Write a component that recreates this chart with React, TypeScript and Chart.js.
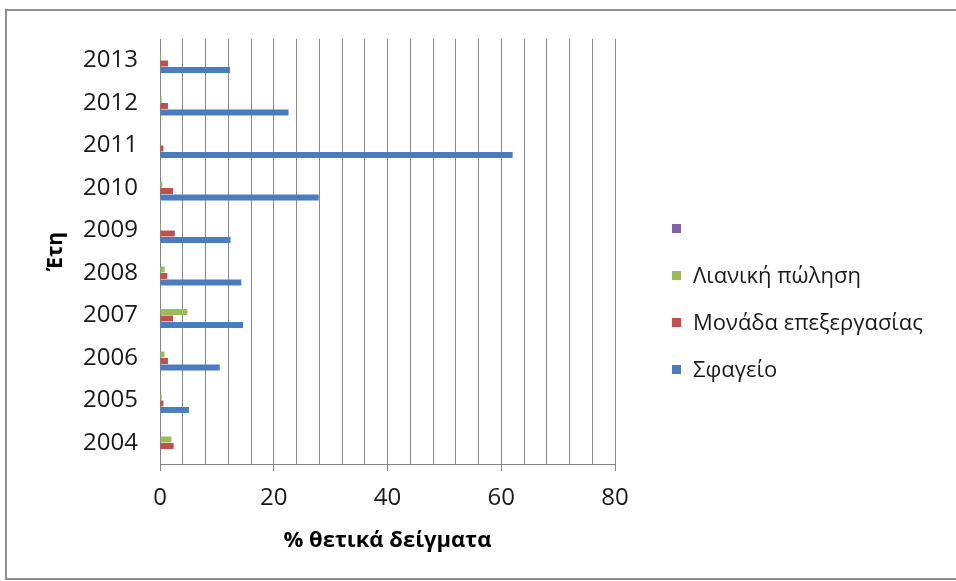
import { useEffect, useRef } from "react";
import { Chart, registerables } from "chart.js";

Chart.register(...registerables);

// Years on the category axis (drawn with 2004 at the bottom)
const years = ["2004", "2005", "2006", "2007", "2008", "2009", "2010", "2011", "2012", "2013"];

// % positive samples per sampling point
const slaughterhouse = [0, 5.1, 10.5, 14.6, 14.3, 12.4, 27.9, 62.0, 22.6, 12.3];
const processingUnit = [2.4, 0.6, 1.4, 2.3, 1.3, 2.6, 2.3, 0.6, 1.4, 1.4];
const retail = [2.0, 0.3, 0.8, 4.8, 0.8, 0.2, 0.4, 0, 0.3, 0.2];
const unnamedSeries = [0, 0, 0, 0, 0, 0, 0, 0, 0, 0];

const seriesLabels = ["", "Λιανική πώληση", "Μονάδα επεξεργασίας", "Σφαγείο"];
const seriesColors = ["#8064A2", "#9BBB59", "#C0504D", "#4A7DBF"];

// Value axis
const xMin = 0;
const xMax = 80;
const gridStep = 4;
const labelStep = 20;

const FONT = '"Open Sans", "Noto Sans", sans-serif';

const sideLegend = {
  id: "sideLegend",
  afterDraw(chart: any) {
    const { ctx, chartArea } = chart;
    const datasets = chart.data.datasets;
    const n = datasets.length;
    const x = chartArea.right + 57;
    const step = 47.3;
    const mid = 299;
    ctx.save();
    ctx.font = `22px ${FONT}`;
    ctx.textBaseline = "middle";
    ctx.textAlign = "left";
    datasets.forEach((ds: any, i: number) => {
      const y = mid + (i - (n - 1) / 2) * step;
      ctx.fillStyle = ds.backgroundColor;
      ctx.fillRect(x, Math.round(y - 4.5), 9, 9);
      ctx.fillStyle = "#1a1a1a";
      ctx.fillText(ds.label, x + 21, y + 1);
    });
    ctx.restore();
  },
};

export default function App() {
  const canvasRef = useRef<HTMLCanvasElement | null>(null);

  useEffect(() => {
    const canvas = canvasRef.current;
    if (!canvas) return;
    const values = [unnamedSeries, retail, processingUnit, slaughterhouse];
    const chart = new Chart(canvas, {
      type: "bar",
      data: {
        labels: years,
        datasets: values.map((data, i) => ({
          label: seriesLabels[i],
          data,
          backgroundColor: seriesColors[i],
          borderWidth: 0,
          categoryPercentage: 0.61,
          barPercentage: 0.92,
        })),
      },
      options: {
        indexAxis: "y",
        animation: false,
        responsive: false,
        devicePixelRatio: 1,
        layout: { padding: { top: 39, left: 10, right: 341, bottom: 17 } },
        plugins: {
          legend: { display: false },
          tooltip: { enabled: false },
        },
        scales: {
          x: {
            type: "linear",
            min: xMin,
            max: xMax,
            afterFit: (scale: any) => {
              scale.height = 100;
            },
            ticks: {
              stepSize: gridStep,
              autoSkip: false,
              maxRotation: 0,
              padding: 13,
              color: "#1a1a1a",
              font: { family: FONT, size: 24 },
              callback: (v: any) => (Number(v) % labelStep === 0 ? String(v) : ""),
            },
            grid: {
              color: "#878787",
              lineWidth: 1,
              drawTicks: true,
              tickLength: 7,
              tickColor: (c: any) =>
                c.tick && c.tick.value % labelStep === 0 ? "#868686" : "rgba(0,0,0,0)",
            },
            border: { display: true, color: "#868686", width: 1 },
            title: {
              display: true,
              text: "% θετικά δείγματα",
              color: "#000000",
              font: { family: FONT, size: 22, weight: "bold" },
              padding: { top: 0, bottom: 10 },
            },
          },
          y: {
            type: "category",
            reverse: true,
            afterFit: (scale: any) => {
              scale.width = 150;
            },
            ticks: {
              padding: 22,
              color: "#1a1a1a",
              font: { family: FONT, size: 24 },
            },
            grid: { display: false, drawTicks: false },
            border: { display: true, color: "#868686", width: 1 },
            title: {
              display: true,
              text: "Έτη",
              color: "#000000",
              font: { family: FONT, size: 21, weight: "bold" },
              padding: { top: 33, bottom: 0 },
            },
          },
        },
      },
      plugins: [sideLegend],
    });
    return () => chart.destroy();
  }, []);

  return (
    <div
      style={{
        position: "absolute",
        left: 0,
        top: 0,
        width: 956,
        height: 581,
        background: "#ffffff",
        overflow: "hidden",
      }}
    >
      <div
        style={{
          position: "absolute",
          left: 5,
          top: 9,
          width: 1000,
          height: 567,
          borderTop: "2px solid #8f8f8f",
          borderLeft: "2px solid #8f8f8f",
          borderBottom: "2px solid #8f8f8f",
        }}
      />
      <canvas
        ref={canvasRef}
        width={956}
        height={581}
        style={{ position: "absolute", left: 0, top: 0, width: 956, height: 581 }}
      />
    </div>
  );
}
